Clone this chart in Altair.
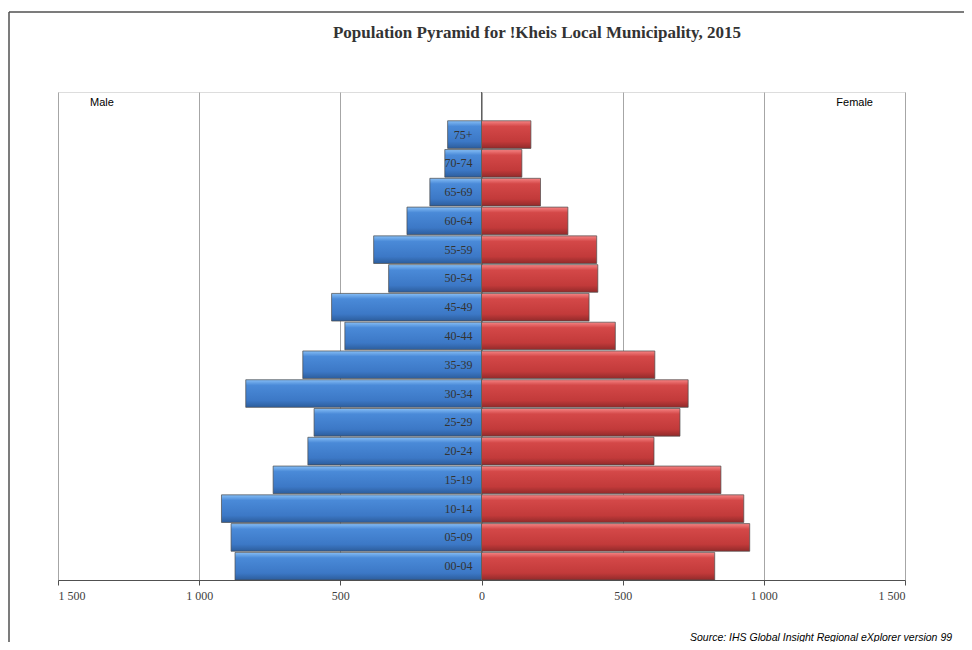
import altair as alt
import pandas as pd

ages = ["75+", "70-74", "65-69", "60-64", "55-59", "50-54", "45-49", "40-44",
        "35-39", "30-34", "25-29", "20-24", "15-19", "10-14", "05-09", "00-04"]
male = [120, 130, 183, 264, 382, 329, 531, 484, 633, 835, 593, 615, 738, 921, 887, 873]
female = [175, 143, 209, 306, 408, 412, 381, 474, 614, 732, 703, 611, 848, 929, 950, 826]
x_ticks = [-1500, -1000, -500, 0, 500, 1000, 1500]

title_text = "Population Pyramid for !Kheis  Local Municipality, 2015"
source_text = "Source: IHS Global Insight Regional eXplorer version 99"

df = pd.DataFrame({
    "age": ages * 2,
    "sex": ["Male"] * len(ages) + ["Female"] * len(ages),
    "value": [-v for v in male] + female,
})

blue = alt.Gradient(gradient="linear", x1=0, x2=0, y1=0, y2=1, stops=[
    alt.GradientStop(color="#86bef6", offset=0),
    alt.GradientStop(color="#4a8ad8", offset=0.2),
    alt.GradientStop(color="#3c78c6", offset=0.75),
    alt.GradientStop(color="#2c5d9c", offset=1),
])
red = alt.Gradient(gradient="linear", x1=0, x2=0, y1=0, y2=1, stops=[
    alt.GradientStop(color="#f68484", offset=0),
    alt.GradientStop(color="#d44848", offset=0.2),
    alt.GradientStop(color="#c23a3a", offset=0.75),
    alt.GradientStop(color="#922a2a", offset=1),
])

x_enc = alt.X("value:Q", scale=alt.Scale(domain=[-1500, 1500], nice=False),
              axis=alt.Axis(values=x_ticks, title=None, grid=True,
                            gridColor="#a6a6a6", gridWidth=1,
                            domainColor="#505050", tickColor="#505050",
                            tickSize=5, labelFont="Liberation Serif",
                            labelFontSize=12, labelColor="#404040",
                            labelPadding=5,
                            labelExpr="replace(format(abs(datum.value), ','), ',', ' ')"))
y_enc = alt.Y("age:N", sort=ages, title=None,
              scale=alt.Scale(paddingInner=0.04, paddingOuter=0.5, align=1),
              axis=None)

base = alt.Chart(df)
male_bars = base.transform_filter(alt.datum.sex == "Male").mark_bar(
    color=blue, stroke="#4a4a4a", strokeWidth=0.7).encode(x=x_enc, y=y_enc)
female_bars = base.transform_filter(alt.datum.sex == "Female").mark_bar(
    color=red, stroke="#4a4a4a", strokeWidth=0.7).encode(x=x_enc, y=y_enc)

labels = base.transform_filter(alt.datum.sex == "Male").mark_text(
    align="right", baseline="middle", dx=-9, font="Liberation Serif",
    fontSize=12, color="#333333").encode(
    x=alt.datum(0), y=y_enc, text="age:N")

zero_rule = alt.Chart(pd.DataFrame({"z": [0]})).mark_rule(
    color="#606060", strokeWidth=1).encode(x="z:Q")

title = alt.Chart(pd.DataFrame({"t": [title_text]})).mark_text(
    align="center", baseline="middle", font="Liberation Serif", fontSize=17,
    fontWeight="bold", color="#333333").encode(
    x=alt.value(479), y=alt.value(-59), text="t:N")
male_lbl = alt.Chart(pd.DataFrame({"t": ["Male"]})).mark_text(
    align="left", baseline="middle", font="Liberation Sans", fontSize=11,
    color="#000000").encode(x=alt.value(32), y=alt.value(11), text="t:N")
female_lbl = alt.Chart(pd.DataFrame({"t": ["Female"]})).mark_text(
    align="right", baseline="middle", font="Liberation Sans", fontSize=11,
    color="#000000").encode(x=alt.value(815), y=alt.value(11), text="t:N")
source = alt.Chart(pd.DataFrame({"t": [source_text]})).mark_text(
    align="left", baseline="alphabetic", font="Liberation Sans",
    fontStyle="italic", fontSize=10.5, color="#000000").encode(
    x=alt.value(632), y=alt.value(549), text="t:N")
frame_left = alt.Chart(pd.DataFrame({"t": [0]})).mark_rule(
    color="#505050", strokeWidth=1.5).encode(
    x=alt.value(-49), y=alt.value(-80), y2=alt.value(560))
frame_top = alt.Chart(pd.DataFrame({"t": [0]})).mark_rule(
    color="#505050", strokeWidth=1.5).encode(
    x=alt.value(-49), x2=alt.value(920), y=alt.value(-80))

chart = alt.layer(
    male_bars, female_bars, zero_rule, labels, title, male_lbl, female_lbl,
    source, frame_left, frame_top
).properties(
    width=847, height=488,
    autosize=alt.AutoSizeParams(type="none"),
    padding={"left": 50, "top": 84, "right": 59, "bottom": 62},
).configure_view(
    stroke="#505050", strokeWidth=1.2
).configure(background="white")

chart.save("out.html", embed_options={"renderer": "svg", "actions": False})
